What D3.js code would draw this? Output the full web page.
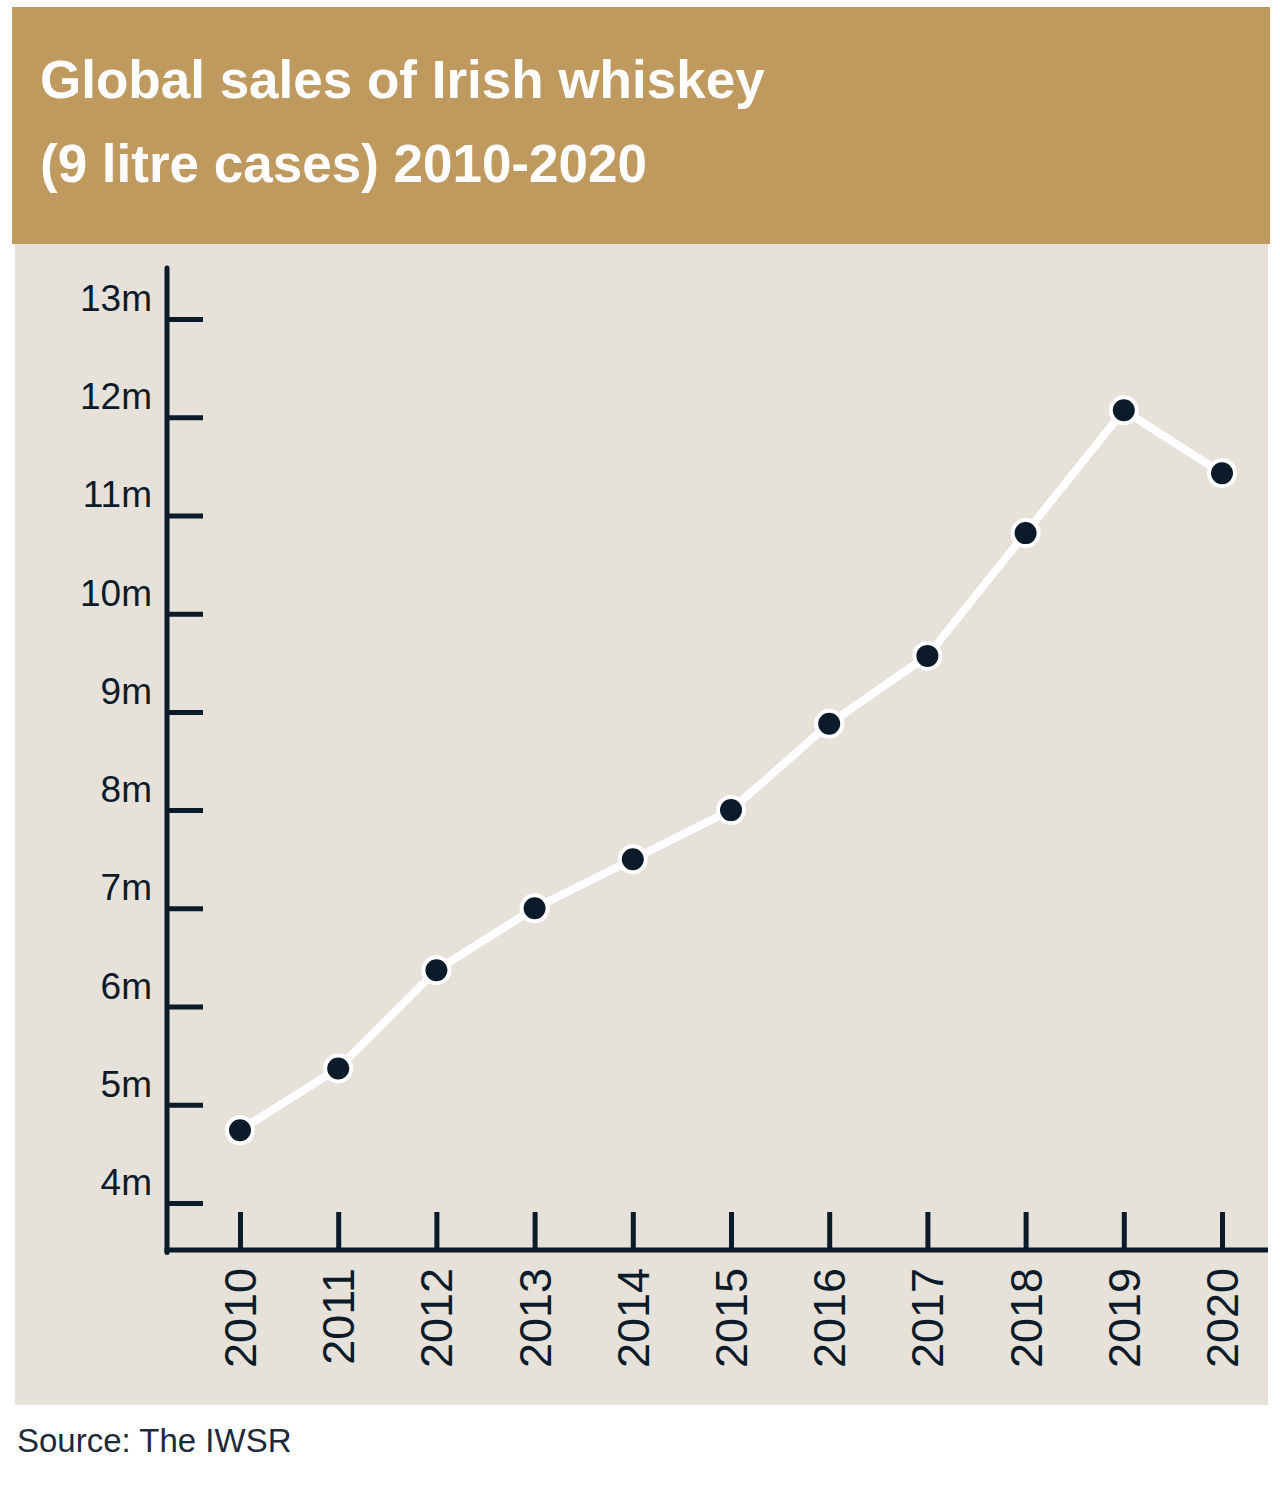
<!DOCTYPE html>
<html>
<head>
<meta charset="utf-8">
<script src="https://cdn.jsdelivr.net/npm/d3@7"></script>
<style>
  html, body { margin: 0; padding: 0; background: #ffffff; }
  svg { display: block; }
  text { font-family: "Liberation Sans", Arial, Helvetica, sans-serif; }
</style>
</head>
<body>
<svg id="chart" width="1280" height="1495"></svg>
<script>
// ---- data ----
const years = ["2010","2011","2012","2013","2014","2015","2016","2017","2018","2019","2020"];
const sales = [4.74, 5.37, 6.37, 7.0, 7.5, 8.0, 8.88, 9.57, 10.82, 12.07, 11.43]; // millions of 9-litre cases
const yTickValues = [4, 5, 6, 7, 8, 9, 10, 11, 12, 13];
const yTickLabels = ["4m","5m","6m","7m","8m","9m","10m","11m","12m","13m"];
const titleLines = ["Global sales of Irish whiskey", "(9 litre cases) 2010-2020"];
const sourceText = "Source: The IWSR";

// ---- styles ----
const gold = "#BF9A5E";
const panel = "#E6E1D9";
const ink = "#0C1B29";

const svg = d3.select("#chart");

// title band
svg.append("rect").attr("x", 12).attr("y", 7).attr("width", 1258).attr("height", 237).attr("fill", gold);
svg.append("g").selectAll("text").data(titleLines).join("text")
  .attr("x", 40).attr("y", (d, i) => 98 + i * 84)
  .attr("fill", "#ffffff").attr("font-size", 53).attr("font-weight", "bold")
  .text(d => d);

// plot panel
svg.append("rect").attr("x", 15).attr("y", 244).attr("width", 1253).attr("height", 1161).attr("fill", panel);

// scales
const x = d3.scalePoint().domain(years).range([240, 1222]);
const y = d3.scaleLinear().domain([4, 13]).range([1203, 319]);

const axisX0 = 167;     // vertical axis position
const axisY0 = 1250;    // horizontal axis position

// y axis ticks
const yAxis = d3.axisRight(y).tickValues(yTickValues).tickSize(36).tickFormat("");
const gy = svg.append("g").attr("transform", `translate(${axisX0},0)`).call(yAxis);
gy.select(".domain").remove();
gy.selectAll(".tick line").attr("stroke", ink).attr("stroke-width", 5);

// y labels
svg.append("g").selectAll("text").data(yTickValues).join("text")
  .attr("x", 152).attr("y", d => y(d) - 8)
  .attr("text-anchor", "end").attr("font-size", 37).attr("fill", ink)
  .text((d, i) => yTickLabels[i]);

// x axis ticks
const xAxis = d3.axisTop(x).tickSize(38).tickFormat("");
const gx = svg.append("g").attr("transform", `translate(0,${axisY0})`).call(xAxis);
gx.select(".domain").remove();
gx.selectAll(".tick line").attr("stroke", ink).attr("stroke-width", 5);

// x labels (rotated)
svg.append("g").selectAll("text").data(years).join("text")
  .attr("transform", d => `translate(${x(d) + 16},${axisY0 + 18}) rotate(-90)`)
  .attr("text-anchor", "end").attr("font-size", 45).attr("fill", ink)
  .text(d => d);

// axis lines
svg.append("line").attr("x1", axisX0).attr("x2", axisX0).attr("y1", 268).attr("y2", axisY0 + 2.5)
  .attr("stroke", ink).attr("stroke-width", 5).attr("stroke-linecap", "round");
svg.append("line").attr("x1", axisX0 - 2.5).attr("x2", 1268).attr("y1", axisY0).attr("y2", axisY0)
  .attr("stroke", ink).attr("stroke-width", 5);

// line
const pts = years.map((yr, i) => ({ yr, v: sales[i] }));
svg.append("path").datum(pts)
  .attr("fill", "none").attr("stroke", "#ffffff").attr("stroke-width", 8).attr("stroke-linejoin", "round")
  .attr("d", d3.line().x(d => x(d.yr)).y(d => y(d.v)));

svg.append("g").selectAll("circle").data(pts).join("circle")
  .attr("cx", d => x(d.yr)).attr("cy", d => y(d.v)).attr("r", 13)
  .attr("fill", ink).attr("stroke", "#ffffff").attr("stroke-width", 4);

// source
svg.append("text").attr("x", 17).attr("y", 1452).attr("font-size", 33).attr("fill", "#1E2A3A")
  .text(sourceText);
</script>
</body>
</html>
